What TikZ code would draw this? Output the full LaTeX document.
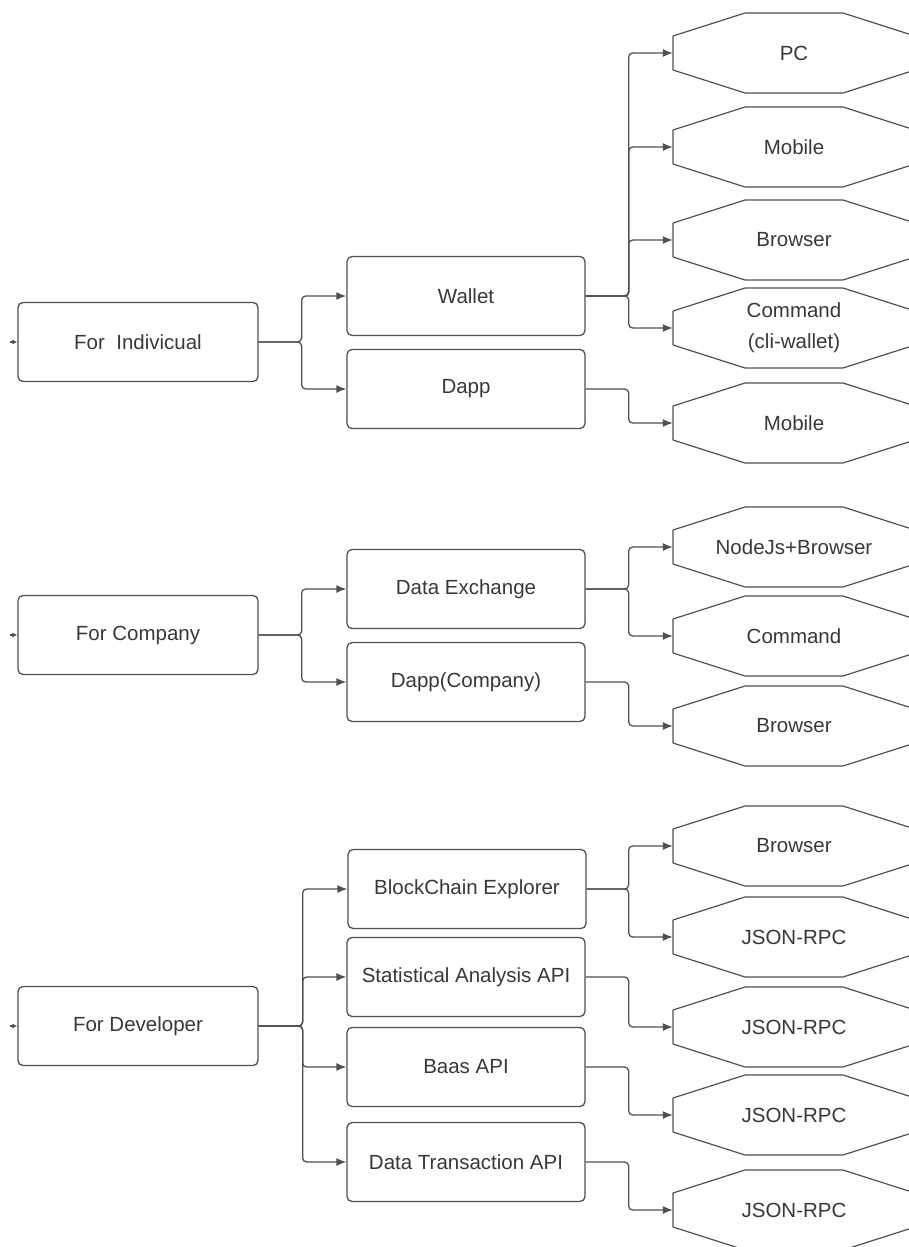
\documentclass[tikz,border=0pt]{standalone}
\usepackage{fontspec}
\setmainfont{Liberation Sans}
\usetikzlibrary{arrows.meta,calc}
\definecolor{lnc}{HTML}{505050}
\definecolor{txc}{HTML}{383838}
\tikzset{
  box/.style={draw=lnc, line width=1.3pt, rounded corners=5pt, minimum height=79pt, inner sep=2pt, text=txc, font=\fontsize{20.5}{31}\selectfont, align=center},
  lvlone/.style={box, minimum width=240pt},
  lvltwo/.style={box, minimum width=238pt},
  octnode/.style={minimum width=242pt, minimum height=80pt, inner sep=0pt, text=txc, font=\fontsize{20.5}{31}\selectfont, align=center},
  octline/.style={draw=lnc, line width=1.2pt, line join=round},
  conn/.style={draw=lnc, line width=1.3pt, rounded corners=4pt, -{Latex[length=10pt,width=8pt]}},
  stub/.style={draw=lnc, line width=1.3pt, -{Latex[length=5pt,width=5pt]}}
}
\newcommand{\octo}[3]{%
  \node[octnode] (#1) at (794,#2) {#3};
  \draw[octline] ($(#1.center)+(-121,-17)$) -- ++(72,-23) -- ++(98,0) -- ++(72,23) -- ++(0,34) -- ++(-72,23) -- ++(-98,0) -- ++(-72,-23) -- cycle;
}
\begin{document}
\begin{tikzpicture}[x=1pt,y=-1pt]
\useasboundingbox (0,0) rectangle (909,1247);

% ---------- Individual ----------
\node[lvlone] (ind) at (138,342) {For\ \ Indivicual};
\coordinate (indin) at (10,342);
\draw[stub] (indin) -- (ind.west);
\node[lvltwo] (wallet) at (466,296) {Wallet};
\node[lvltwo] (dapp) at (466,389) {Dapp};
\draw[conn] (ind.east) -- ++(43,0) |- (wallet.west);
\draw[conn] (ind.east) -- ++(43,0) |- (dapp.west);

\octo{pc}{53}{PC}
\octo{mob}{147}{Mobile}
\octo{brw}{240}{Browser}
\octo{cmd}{328}{Command\\(cli-wallet)}
\octo{mobb}{423}{Mobile}
\draw[conn] (wallet.east) -- ++(43,0) |- (pc.west);
\draw[conn] (wallet.east) -- ++(43,0) |- (mob.west);
\draw[conn] (wallet.east) -- ++(43,0) |- (brw.west);
\draw[conn] (wallet.east) -- ++(43,0) |- (cmd.west);
\draw[conn] (dapp.east) -- ++(43,0) |- (mobb.west);

% ---------- Company ----------
\node[lvlone] (com) at (138,635) {For Company};
\coordinate (comin) at (10,635);
\draw[stub] (comin) -- (com.west);
\node[lvltwo] (dex) at (466,589) {Data Exchange};
\node[lvltwo] (dappc) at (466,682) {Dapp(Company)};
\draw[conn] (com.east) -- ++(43,0) |- (dex.west);
\draw[conn] (com.east) -- ++(43,0) |- (dappc.west);

\octo{njb}{547}{NodeJs+Browser}
\octo{cmdb}{636}{Command}
\octo{brwb}{726}{Browser}
\draw[conn] (dex.east) -- ++(43,0) |- (njb.west);
\draw[conn] (dex.east) -- ++(43,0) |- (cmdb.west);
\draw[conn] (dappc.east) -- ++(43,0) |- (brwb.west);

% ---------- Developer ----------
\node[lvlone] (dev) at (138,1026) {For Developer};
\coordinate (devin) at (10,1026);
\draw[stub] (devin) -- (dev.west);
\node[lvltwo] (bce) at (467,889) {BlockChain Explorer};
\node[lvltwo] (sta) at (466,977) {Statistical Analysis API};
\node[lvltwo] (baas) at (466,1067) {Baas API};
\node[lvltwo] (dta) at (466,1162) {Data Transaction API};
\draw[conn] (dev.east) -- ++(44,0) |- (bce.west);
\draw[conn] (dev.east) -- ++(44,0) |- (sta.west);
\draw[conn] (dev.east) -- ++(44,0) |- (baas.west);
\draw[conn] (dev.east) -- ++(44,0) |- (dta.west);

\octo{brwc}{846}{Browser}
\octo{jra}{937}{JSON-RPC}
\octo{jrb}{1027}{JSON-RPC}
\octo{jrc}{1115}{JSON-RPC}
\octo{jrd}{1210}{JSON-RPC}
\draw[conn] (bce.east) -- ++(42,0) |- (brwc.west);
\draw[conn] (bce.east) -- ++(42,0) |- (jra.west);
\draw[conn] (sta.east) -- ++(43,0) |- (jrb.west);
\draw[conn] (baas.east) -- ++(43,0) |- (jrc.west);
\draw[conn] (dta.east) -- ++(43,0) |- (jrd.west);
\end{tikzpicture}
\end{document}
